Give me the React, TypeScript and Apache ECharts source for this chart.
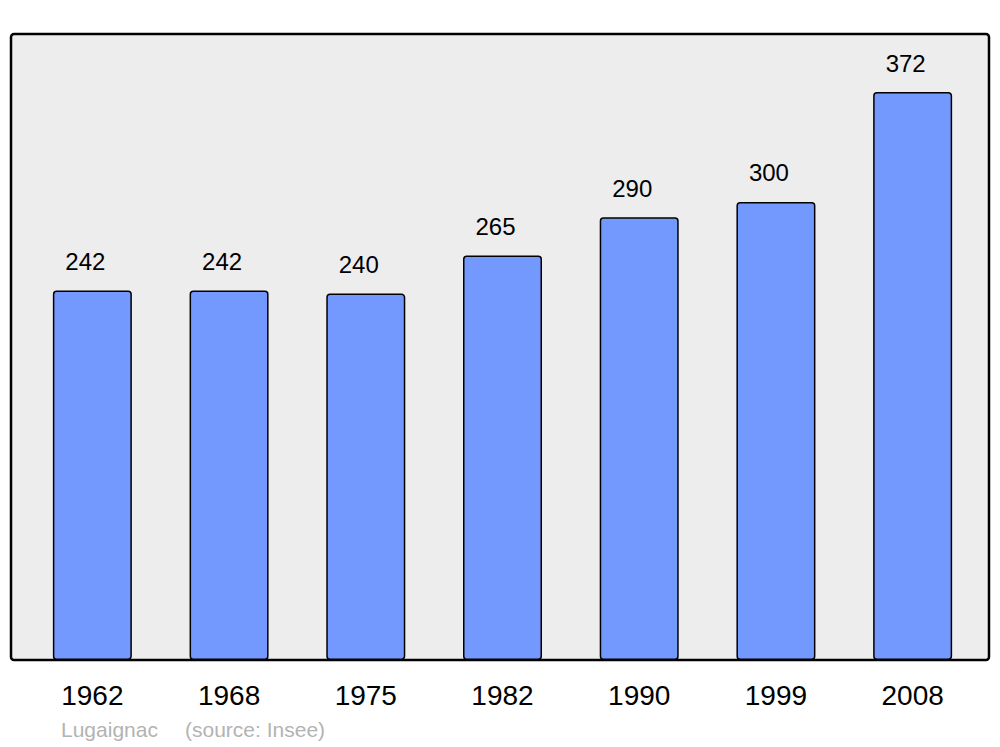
import React, { useEffect, useRef } from "react";
import * as echarts from "echarts";

const years = ["1962", "1968", "1975", "1982", "1990", "1999", "2008"];
const population = [242, 242, 240, 265, 290, 300, 372];
const footerName = "Lugaignac";
const footerSource = "(source: Insee)";

export default function App() {
  const ref = useRef<HTMLDivElement>(null);
  useEffect(() => {
    if (!ref.current) return;
    const chart = echarts.init(ref.current, null, { renderer: "svg" });
    const font = '"Liberation Sans", Arial, sans-serif';
    chart.setOption({
      animation: false,
      backgroundColor: "#ffffff",
      grid: { left: 24, right: 19, top: 34, bottom: 87 },
      graphic: [
        {
          type: "rect",
          z: -10,
          silent: true,
          shape: { x: 11, y: 34, width: 978, height: 626, r: 3 },
          style: { fill: "#ededed", stroke: "#000000", lineWidth: 2.5 },
        },
        {
          type: "text",
          left: 61,
          top: 719,
          silent: true,
          style: { text: footerName, fill: "#b3b3b3", font: "21px " + font },
        },
        {
          type: "text",
          left: 185,
          top: 719,
          silent: true,
          style: { text: footerSource, fill: "#b3b3b3", font: "21px " + font },
        },
      ],
      xAxis: {
        type: "category",
        data: years,
        axisLine: { show: false },
        axisTick: { show: false },
        axisLabel: {
          color: "#000000",
          fontSize: 28,
          fontFamily: font,
          margin: 21,
        },
      },
      yAxis: {
        type: "value",
        min: 0,
        max: 410,
        show: false,
        splitLine: { show: false },
      },
      series: [
        {
          type: "bar",
          data: population,
          barWidth: 79,
          itemStyle: {
            color: "#7399ff",
            borderColor: "#000000",
            borderWidth: 1.5,
            borderRadius: 3,
          },
          label: {
            show: true,
            position: "top",
            distance: 17,
            offset: [-7, 0],
            color: "#000000",
            fontSize: 24,
            fontFamily: font,
          },
        },
      ],
    });
    return () => chart.dispose();
  }, []);
  return <div ref={ref} style={{ width: 1000, height: 747, position: "absolute", left: 0, top: 0 }} />;
}
